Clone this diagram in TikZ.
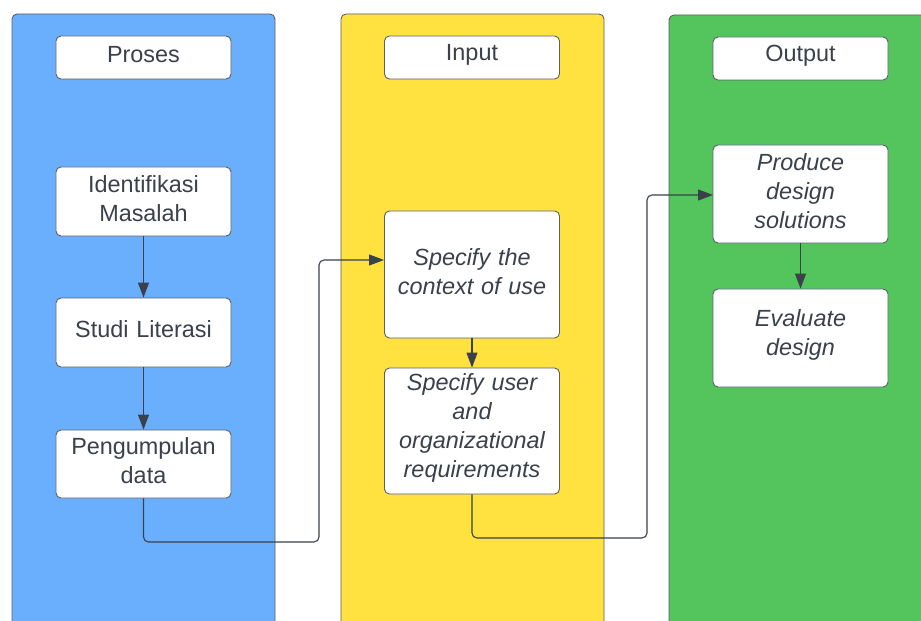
\documentclass[tikz,border=0pt]{standalone}
\usepackage{fontspec}
\setmainfont{Liberation Sans}
\usetikzlibrary{arrows.meta}
\definecolor{lanebl}{RGB}{106,174,254}
\definecolor{laneyl}{RGB}{255,225,64}
\definecolor{lanegr}{RGB}{84,196,92}
\definecolor{ink}{RGB}{58,65,74}
\definecolor{edge}{RGB}{90,96,104}
\tikzset{
  lane/.style={draw=edge, line width=0.9bp, rounded corners=5bp},
  box/.style={draw=edge, fill=white, line width=0.9bp, rounded corners=5bp,
    minimum width=175bp, text width=172bp, align=center, inner sep=0pt,
    text=ink, font=\fontsize{23.5}{29}\selectfont,
    execute at end node={\par\kern6bp}},
  itbox/.style={box, font=\fontsize{23.5}{29}\selectfont\itshape},
  conn/.style={draw=edge, line width=1.1bp, rounded corners=5bp,
    -{Triangle[length=15bp,width=11bp]}, color=ink},
}
\begin{document}
\begin{tikzpicture}[x=1bp,y=-1bp]
  \useasboundingbox (0,0) rectangle (921,621);
  \clip (0,0) rectangle (921,621);
  \fill[white] (0,0) rectangle (921,621);
  % swim lanes
  \draw[lane, fill=lanebl] (12,640) -- (12,14) -- (275,14) -- (275,640);
  \draw[lane, fill=laneyl] (341,640) -- (341,14) -- (604,14) -- (604,640);
  \draw[lane, fill=lanegr] (669,640) -- (669,15) -- (940,15) -- (940,640);
  % lane headers
  \node[box, minimum height=43bp] (hp) at (143.5,57.5) {Proses};
  \node[box, minimum height=43bp] (hi) at (472,57.5) {Input};
  \node[box, minimum height=43bp] (ho) at (800.5,58.5) {Output};
  % Proses steps
  \node[box, minimum height=69bp] (idm) at (143.5,201.5) {Identifikasi\\Masalah};
  \node[box, minimum height=69bp] (stl) at (143.5,332.5) {Studi Literasi};
  \node[box, minimum height=68bp] (peng) at (143.5,464) {Pengumpulan\\data};
  % Input steps
  \node[itbox, minimum height=127bp] (ctx) at (472,274.5) {Specify the\\context of use};
  \node[itbox, minimum height=126bp] (req) at (472,431) {Specify user\\and\\organizational\\requirements};
  % Output steps
  \node[itbox, minimum height=98bp] (prod) at (800.5,194) {Produce\\design\\solutions};
  \node[itbox, minimum height=98bp] (eval) at (800.5,338) {Evaluate\\design};
  % bend points and entry points of the cross-lane links
  \coordinate (j1) at (319,542);
  \coordinate (e1) at (384,260);
  \coordinate (j2) at (647,538);
  \coordinate (e2) at (713,195);
  % links
  \draw[conn] (idm) -- (stl);
  \draw[conn] (stl) -- (peng);
  \draw[conn] (peng.south) |- (j1) |- (e1);
  \draw[conn] (ctx) -- (req);
  \draw[conn] (req.south) |- (j2) |- (e2);
  \draw[conn] (prod) -- (eval);
\end{tikzpicture}
\end{document}
